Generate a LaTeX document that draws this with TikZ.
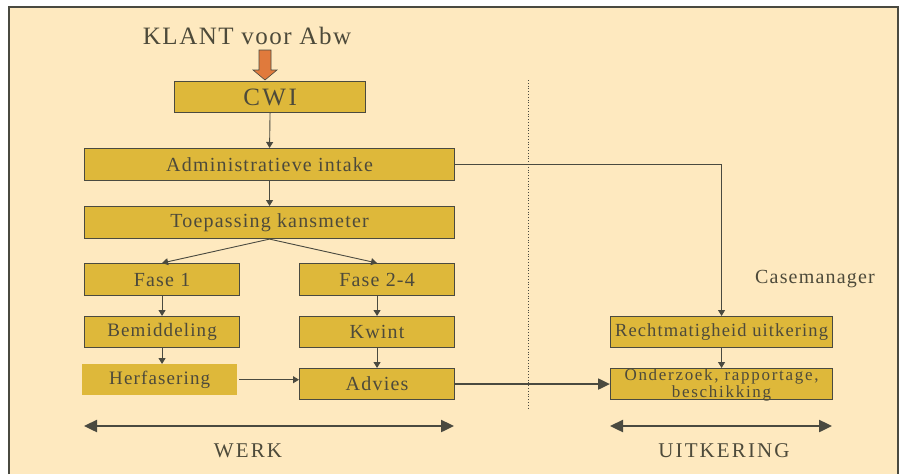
\documentclass[tikz,border=0pt]{standalone}
\usepackage{fontspec}
\setmainfont{Liberation Serif}
\newfontfamily\spfont[LetterSpace=6]{Liberation Serif}
\newfontfamily\spwfont[LetterSpace=10]{Liberation Serif}
\usetikzlibrary{arrows.meta,positioning,calc}
\definecolor{bgc}{HTML}{FEE9BF}
\definecolor{boxc}{HTML}{DEB83A}
\definecolor{linec}{HTML}{4A4A40}
\definecolor{txtc}{HTML}{4D4A3A}
\definecolor{orangec}{HTML}{E07A3C}
\begin{document}
\begin{tikzpicture}[x=1pt,y=-1pt,
  box/.style={draw=linec,line width=1.1pt,fill=boxc,text=txtc,inner sep=0pt,anchor=north west},
  bare/.style={fill=boxc,text=txtc,inner sep=0pt,anchor=north west},
  fs/.style={font=\spfont\fontsize{#1}{#1}\selectfont},
  fsw/.style={font=\spwfont\fontsize{#1}{#1}\selectfont},
  conn/.style={draw=linec,line width=0.9pt,-{Triangle[length=6pt,width=7pt]}},
  thick conn/.style={draw=linec,line width=2pt,-{Triangle[length=12pt,width=11pt]}},
  span/.style={draw=linec,line width=2.4pt,{Triangle[length=13pt,width=12pt]}-{Triangle[length=13pt,width=12pt]}},
  lbl/.style={text=txtc,inner sep=0pt}]
\useasboundingbox (0,0) rectangle (904,474);
\fill[white] (0,0) rectangle (904,474);
\fill[bgc] (9,7) rectangle (898,474);
\draw[linec,line width=1.2pt] (9,474) -- (9,7) -- (898,7) -- (898,474);

\node[lbl,fs=25] (klant) at (247,36) {KLANT voor Abw};
% orange block arrow
\draw[linec,line width=0.6pt,fill=orangec] (259,50) -- (271,50) -- (271,70) -- (277,70) -- (265,80) -- (253,70) -- (259,70) -- cycle;

\node[box,minimum width=191pt,minimum height=31pt,fsw=25] (cwi) at (174,81) {CWI};
\node[box,minimum width=370pt,minimum height=32pt,fs=20] (admin) at (84,148) {Administratieve intake};
\node[box,minimum width=370pt,minimum height=32pt,fs=20] (toep) at (84,206) {Toepassing kansmeter};
\node[box,minimum width=155pt,minimum height=32pt,fs=20] (fase1) at (84,263) {Fase 1};
\node[box,minimum width=155pt,minimum height=32pt,fs=20] (fase2) at (299,263) {Fase 2-4};
\node[box,minimum width=155pt,minimum height=31pt,fs=19] (bemid) at (84,316) {Bemiddeling};
\node[box,minimum width=155pt,minimum height=31pt,fs=20] (kwint) at (299,316) {Kwint};
\node[bare,minimum width=155pt,minimum height=31pt,fs=19] (herf) at (82,364) {Herfasering};
\node[box,minimum width=155pt,minimum height=31pt,fs=20] (advies) at (299,368) {Advies};
\node[box,minimum width=222pt,minimum height=31pt,fs=18.5] (recht) at (610,316) {Rechtmatigheid uitkering};
\node[box,minimum width=222pt,minimum height=31pt] (onder) at (610,368) {};
\node[lbl,font=\spwfont\fontsize{17}{14}\selectfont,align=center] (ondertxt) at ($(onder.center)+(0,1)$) {Onderzoek, rapportage,\\beschikking};

\node[lbl,fs=20] (case) at (815,279) {Casemanager};
\draw[linec,line width=0.8pt,dotted] (528,80) -- (528,409);

\draw[conn] (cwi.south) -- (admin.north);
\draw[conn] (admin.south) -- (toep.north);
\draw[conn] (toep.south) -- (fase1.north);
\draw[conn] (toep.south) -- (fase2.north);
\draw[conn] (fase1.south) -- (bemid.north);
\draw[conn] (bemid.south) -- (herf.north -| bemid.south);
\draw[conn] (fase2.south) -- (kwint.north);
\draw[conn] (kwint.south) -- (advies.north);
\draw[conn] ($(herf.east)+(2,0)$) -- (advies.west |- herf.east);
\draw[conn] (admin.east) -| (recht.north);
\draw[conn] (recht.south) -- (onder.north);
\draw[thick conn] (advies.east) -- (onder.west);

\coordinate (w1) at (84,426);
\coordinate (w2) at (454,426);
\coordinate (u1) at (610,426);
\coordinate (u2) at (832,426);
\draw[span] (w1) -- (w2);
\draw[span] (u1) -- (u2);
\node[lbl,fsw=21] (werk) at (248,451) {WERK};
\node[lbl,fsw=21] (uitk) at (724,451) {UITKERING};
\end{tikzpicture}
\end{document}
